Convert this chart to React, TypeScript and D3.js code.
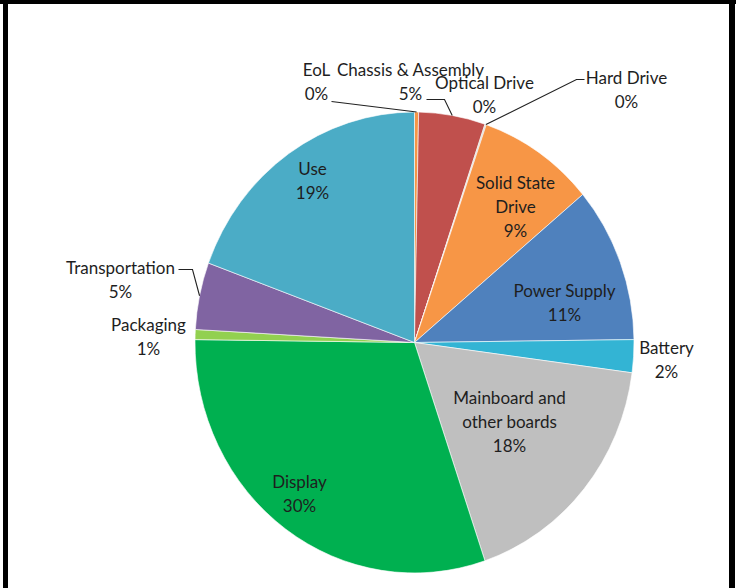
import React, { useEffect, useRef } from 'react';
import * as d3 from 'd3';

// slices in clockwise order from 12 o'clock
const categories = [
  'EoL', 'Chassis & Assembly', 'Optical Drive', 'Hard Drive', 'Solid State Drive',
  'Power Supply', 'Battery', 'Mainboard and other boards', 'Display',
  'Packaging', 'Transportation', 'Use',
];
const shares = [0.3, 4.9, 0.05, 0.05, 8.6, 10.9, 2.3, 17.7, 30.4, 0.7, 4.7, 19.4];
const labelLines = [
  ['EoL', '0%'],
  ['Chassis & Assembly', '5%'],
  ['Optical Drive', '0%'],
  ['Hard Drive', '0%'],
  ['Solid State', 'Drive', '9%'],
  ['Power Supply', '11%'],
  ['Battery', '2%'],
  ['Mainboard and', 'other boards', '18%'],
  ['Display', '30%'],
  ['Packaging', '1%'],
  ['Transportation', '5%'],
  ['Use', '19%'],
];

const colors: Record<string, string> = {
  'EoL': '#f79646',
  'Chassis & Assembly': '#c0504d',
  'Optical Drive': '#9bbb59',
  'Hard Drive': '#8064a2',
  'Solid State Drive': '#f79646',
  'Power Supply': '#4f81bd',
  'Battery': '#33b4d4',
  'Mainboard and other boards': '#bfbfbf',
  'Display': '#00b050',
  'Packaging': '#92d050',
  'Transportation': '#8064a2',
  'Use': '#4bacc6',
};

// label block centre, offset from the pie centre (px); leader = [start, elbow] offsets
const labelLayout: Record<string, { dx: number; dy: number; leader?: [number, number][] }> = {
  'EoL': { dx: -98, dy: -260, leader: [[-83, -241], [-83, -241]] },
  'Chassis & Assembly': { dx: -4, dy: -260, leader: [[12, -243], [30, -243]] },
  'Optical Drive': { dx: 70, dy: -247 },
  'Hard Drive': { dx: 212, dy: -252, leader: [[170, -263], [162, -263]] },
  'Solid State Drive': { dx: 101, dy: -135 },
  'Power Supply': { dx: 150, dy: -39 },
  'Battery': { dx: 252, dy: 18 },
  'Mainboard and other boards': { dx: 95, dy: 80 },
  'Display': { dx: -115, dy: 152 },
  'Packaging': { dx: -266, dy: -5 },
  'Transportation': { dx: -294, dy: -62, leader: [[-236, -73], [-222, -73]] },
  'Use': { dx: -102, dy: -161 },
};

export default function App() {
  const svgRef = useRef<SVGSVGElement>(null);

  useEffect(() => {
    if (!svgRef.current) return;
    const svg = d3.select(svgRef.current);
    svg.selectAll('*').remove();

    const width = 739;
    const height = 588;
    const cx = 414.5;
    const cy = 342.5;
    const radius = 219.5;
    const squash = 1.05; // the original is slightly taller than wide

    svg.append('rect').attr('width', width).attr('height', height).attr('fill', '#fff');

    const data = categories.map((name, i) => ({ name, value: shares[i], lines: labelLines[i] }));
    type D = typeof data[number];

    const pie = d3.pie<D>().value(d => d.value).sort(null);
    const arc = d3.arc<d3.PieArcDatum<D>>().innerRadius(0).outerRadius(radius);
    const edge = d3.arc<d3.PieArcDatum<D>>().innerRadius(radius).outerRadius(radius);
    const arcs = pie(data);

    const g = svg.append('g')
      .attr('transform', `translate(${cx},${cy}) scale(1,${squash})`);

    g.selectAll('path.slice')
      .data(arcs)
      .enter()
      .append('path')
      .attr('class', 'slice')
      .attr('d', arc)
      .attr('fill', d => colors[d.data.name])
      .attr('stroke', '#fff')
      .attr('stroke-width', 0.6)
      .attr('vector-effect', 'non-scaling-stroke');

    const labels = svg.append('g').attr('transform', `translate(${cx},${cy})`);

    // leader lines from the label to the rim of its slice
    arcs.forEach(d => {
      const lay = labelLayout[d.data.name];
      if (!lay.leader) return;
      const [ex, ey] = edge.centroid(d);
      const pts: [number, number][] = [...lay.leader, [ex, ey * squash]];
      labels.append('path')
        .attr('d', d3.line()(pts))
        .attr('fill', 'none')
        .attr('stroke', '#222')
        .attr('stroke-width', 1.1);
    });

    const lineH = 24;
    arcs.forEach(d => {
      const lay = labelLayout[d.data.name];
      const lines = d.data.lines;
      const t = labels.append('text')
        .attr('text-anchor', 'middle')
        .attr('font-family', 'Lato, "Open Sans", sans-serif')
        .attr('font-size', 17)
        .attr('fill', '#1e1e1e');
      lines.forEach((ln, k) => {
        t.append('tspan')
          .attr('x', lay.dx)
          .attr('y', lay.dy + (k - (lines.length - 1) / 2) * lineH)
          .attr('dy', '0.35em')
          .text(ln);
      });
    });

    // black frame of the screenshot
    svg.append('rect').attr('x', 0).attr('y', 0).attr('width', 736).attr('height', 4).attr('fill', '#000');
    svg.append('rect').attr('x', 3).attr('y', 0).attr('width', 5).attr('height', height).attr('fill', '#000');
    svg.append('rect').attr('x', 729).attr('y', 0).attr('width', 6).attr('height', height).attr('fill', '#000');
  }, []);

  return (
    <svg
      ref={svgRef}
      width={739}
      height={588}
      style={{ position: 'absolute', left: 0, top: 0, display: 'block' }}
    />
  );
}
